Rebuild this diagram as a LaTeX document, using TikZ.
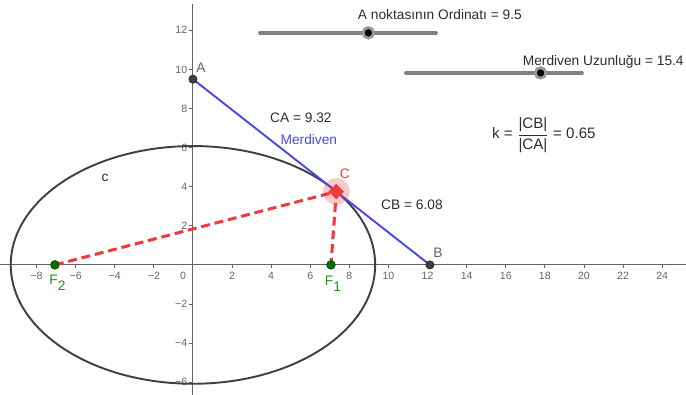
\documentclass[tikz,border=0pt]{standalone}
\usepackage{amsmath}
\usepackage{fontspec}
\setmainfont{Liberation Sans}
\usepackage{tikz}
\usetikzlibrary{positioning,shapes.geometric}
\definecolor{ladblue}{RGB}{72,72,235}
\definecolor{locred}{RGB}{238,58,58}
\definecolor{focgreen}{RGB}{0,115,0}
\definecolor{focgreenlbl}{RGB}{30,150,30}
\definecolor{ptgray}{RGB}{64,64,64}
\definecolor{axgray}{RGB}{100,100,100}
\definecolor{txtgray}{RGB}{45,45,45}
\definecolor{sldgray}{RGB}{128,128,128}
\tikzset{
  axline/.style={axgray,line width=0.7pt},
  axtick/.style={axgray,line width=0.6pt},
  axlbl/.style={text=axgray,font=\fontsize{7.7}{9}\selectfont,inner sep=0pt},
  ellip/.style={ptgray,line width=1.4pt},
  ladder/.style={ladblue,line width=1.4pt},
  focline/.style={locred,line width=2.2pt,dash pattern=on 6.5pt off 3.5pt},
  gpt/.style={circle,fill=ptgray,draw=ptgray!60!black,line width=0.5pt,
    minimum size=2.1mm,inner sep=0pt},
  fpt/.style={circle,fill=focgreen,draw=focgreen!60!black,line width=0.5pt,
    minimum size=2.2mm,inner sep=0pt},
  cpt/.style={diamond,fill=locred,minimum size=4mm,inner sep=0pt},
  chalo/.style={circle,fill=locred,fill opacity=0.28,minimum size=6.8mm,
    inner sep=0pt},
  ptlbl/.style={text=axgray,font=\fontsize{10}{12}\selectfont,inner sep=0pt},
  txtlbl/.style={text=txtgray,font=\fontsize{10}{12}\selectfont,inner sep=0pt},
  flbl/.style={text=focgreenlbl,font=\fontsize{10}{12}\selectfont,inner sep=0pt},
  sldline/.style={sldgray,line width=2.8pt,line cap=round},
  knob/.style={circle,fill=black,draw=sldgray!80,line width=2pt,
    minimum size=2.7mm,inner sep=0pt},
}
\newcommand{\fsub}[1]{F\raisebox{-4.6pt}{#1}}
\begin{document}
\begin{tikzpicture}[x=5mm,y=5mm]
  \useasboundingbox (-9.87,-6.65) rectangle (25.22,13.55);
  % axes
  \draw[axline] (-9.87,0) -- (25.22,0);
  \draw[axline] (0,-6.65) -- (0,13.35);
  \foreach \x in {2,4,...,24} {
    \draw[axtick] (\x,0) -- (\x,-0.18);
    \node[axlbl] (xp\x) at (\x,-0.55) {\x};
  }
  \foreach \x in {2,4,6,8} {
    \draw[axtick] (-\x,0) -- (-\x,-0.18);
    \node[axlbl] (xn\x) at (-\x,-0.55) {−\x};
  }
  \node[axlbl] (orig) at (-0.5,-0.55) {0};
  \foreach \y in {2,4,...,12} {
    \draw[axtick] (0,\y) -- (-0.18,\y);
    \node[axlbl,anchor=east] (yp\y) at (-0.28,\y) {\y};
  }
  \foreach \y in {2,4,6} {
    \draw[axtick] (0,-\y) -- (-0.18,-\y);
    \node[axlbl,anchor=east] (yn\y) at (-0.28,-\y) {−\y};
  }
  % points of the construction
  \coordinate (A) at (0,9.5);
  \coordinate (B) at (12.12,0);
  \coordinate (C) at (7.335,3.75);
  \coordinate (F1) at (7.06,0);
  \coordinate (F2) at (-7.06,0);
  \draw[ellip] (0,0) ellipse [x radius=9.32,y radius=6.08];
  \draw[focline] (F2) -- (C) -- (F1);
  \draw[ladder] (A) -- (B);
  \node[chalo] (Chalo) at (C) {};
  \node[cpt] (Cpt) at (C) {};
  \node[gpt] (Apt) at (A) {};
  \node[gpt] (Bpt) at (B) {};
  \node[fpt] (F1pt) at (F1) {};
  \node[fpt] (F2pt) at (F2) {};
  % labels
  \node[ptlbl] (lblA) at (0.41,10.08) {A};
  \node[ptlbl] (lblB) at (12.53,0.61) {B};
  \node[ptlbl,text=locred] (lblC) at (7.77,4.65) {C};
  \node[txtlbl] (lblc) at (-4.5,4.45) {c};
  \node[flbl] (lblF1) at (7.16,-0.95) {\fsub{1}};
  \node[flbl] (lblF2) at (-6.93,-0.93) {\fsub{2}};
  \node[txtlbl] (lblCA) at (5.52,7.52) {CA = 9.32};
  \node[txtlbl,text=ladblue] (lblM) at (5.93,6.39) {Merdiven};
  \node[txtlbl] (lblCB) at (11.2,3.07) {CB = 6.08};
  \node[txtlbl,font=\fontsize{11}{13}\selectfont] (lblk) at (17.95,6.65)
    {k = $\dfrac{\text{|CB|}}{\text{|CA|}}$ = 0.65};
  % sliders
  \coordinate (s1a) at (3.43,11.87);
  \coordinate (s1b) at (12.43,11.87);
  \coordinate (s2a) at (10.9,9.82);
  \coordinate (s2b) at (19.9,9.82);
  \draw[sldline] (s1a) -- (s1b);
  \draw[sldline] (s2a) -- (s2b);
  \node[knob] (knobA) at (8.97,11.87) {};
  \node[knob] (knobL) at (17.78,9.82) {};
  \node[txtlbl] (lblS1) at (12.63,12.79) {A noktasının Ordinatı = 9.5};
  \node[txtlbl,anchor=west] (lblS2) at (16.86,10.4) {Merdiven Uzunluğu = 15.4};
\end{tikzpicture}
\end{document}
